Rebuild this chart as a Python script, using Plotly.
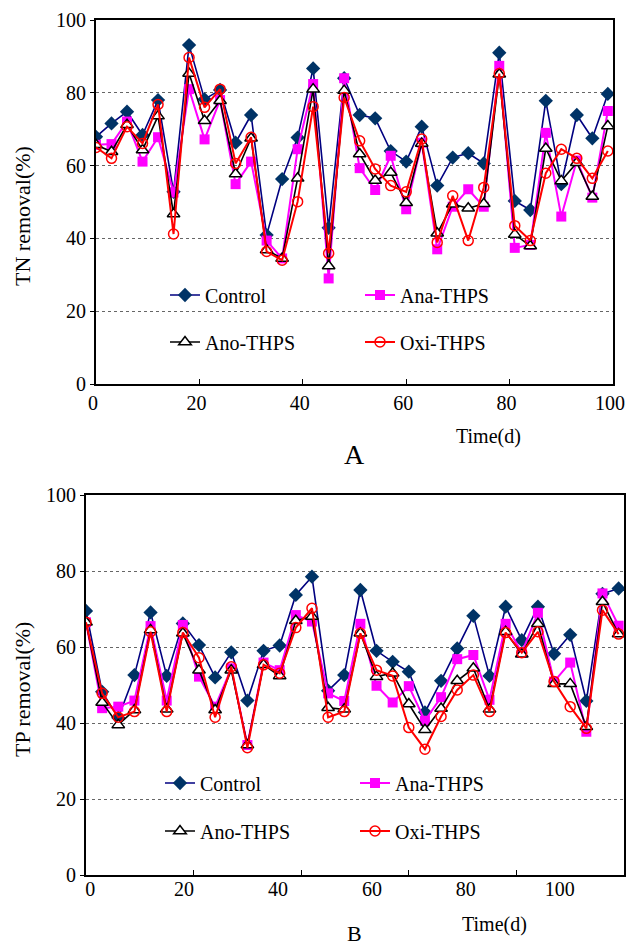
import plotly.graph_objects as go

# ---------------- data ----------------
days = [0, 3, 6, 9, 12, 15, 18, 21, 24, 27, 30, 33, 36, 39, 42, 45, 48, 51,
        54, 57, 60, 63, 66, 69, 72, 75, 78, 81, 84, 87, 90, 93, 96, 99]

series_names = ["Control", "Ana-THPS", "Ano-THPS", "Oxi-THPS"]

tn_control = [67.9, 71.6, 74.8, 68.4, 78.0, 52.8, 93.1, 78.2, 80.8, 66.3, 73.9, 40.9,
              56.3, 67.7, 86.7, 42.9, 84.0, 73.9, 73.0, 64.0, 61.1, 70.7, 54.5,
              62.2, 63.4, 60.6, 91.0, 50.3, 47.8, 77.8, 54.9, 73.9, 67.5, 79.7]
tn_ana = [65.7, 65.9, 72.1, 61.1, 67.8, 52.6, 81.0, 67.2, 78.0, 54.9, 61.1, 39.4,
          34.5, 64.5, 82.4, 29.0, 84.0, 59.3, 53.3, 62.7, 48.0, 66.3, 37.0,
          48.7, 53.5, 48.7, 87.4, 37.4, 38.2, 69.0, 46.0, 61.4, 51.2, 75.0]
tn_ano = [65.7, 63.8, 71.2, 64.3, 73.6, 46.7, 85.3, 72.3, 77.8, 57.7, 67.5, 36.8,
          34.5, 56.5, 81.0, 32.4, 80.6, 63.2, 55.9, 58.1, 49.8, 66.1, 41.4,
          49.4, 48.3, 49.5, 85.1, 41.1, 37.9, 64.7, 55.8, 60.8, 51.5, 70.9]
tn_oxi = [65.0, 62.0, 70.7, 66.1, 76.8, 41.2, 89.7, 76.0, 81.0, 60.6, 67.8, 36.4,
          34.0, 50.1, 76.2, 35.9, 78.7, 66.8, 59.1, 54.5, 52.8, 67.3, 38.9,
          51.7, 39.4, 54.0, 85.3, 43.5, 39.4, 57.9, 64.5, 62.0, 56.5, 64.0]

tp_control = [69.5, 48.2, 41.4, 52.6, 69.1, 52.4, 66.2, 60.5, 52.0, 58.6, 45.9, 59.0,
              60.4, 73.7, 78.5, 48.5, 52.6, 75.0, 59.0, 56.1, 53.5, 42.8, 51.1,
              59.6, 68.2, 52.4, 70.6, 61.8, 70.6, 58.2, 63.2, 45.8, 74.0, 75.4]
tp_ana = [66.5, 43.9, 44.3, 45.9, 65.5, 45.9, 65.8, 52.2, 44.3, 54.4, 34.2, 55.9,
          53.9, 68.4, 66.7, 47.8, 45.8, 66.1, 49.8, 45.4, 49.7, 40.6, 46.8,
          56.8, 57.9, 46.1, 66.1, 58.5, 69.0, 50.9, 55.9, 37.7, 74.1, 65.6]
tp_ano = [66.5, 45.4, 39.5, 43.4, 64.5, 43.6, 63.6, 53.9, 43.4, 53.9, 34.2, 55.3,
          52.4, 66.9, 68.0, 44.0, 43.6, 63.6, 52.2, 53.1, 45.0, 38.2, 43.8,
          51.1, 54.4, 43.6, 64.0, 58.1, 66.1, 50.3, 50.3, 39.0, 71.9, 63.4]
tp_oxi = [66.5, 47.8, 41.5, 43.0, 64.0, 43.0, 63.8, 57.2, 41.5, 54.8, 33.5, 55.3,
          53.1, 65.1, 70.2, 41.5, 43.0, 63.6, 53.9, 52.4, 38.8, 33.1, 41.7,
          48.7, 52.6, 43.0, 63.8, 58.5, 64.0, 50.9, 44.3, 38.6, 69.7, 63.4]

x_ticks = [0, 20, 40, 60, 80, 100]
x_ticktext = ["0", "20", "40", "60", "80", "100"]
y_ticks = [0, 20, 40, 60, 80, 100]

# ---------------- styles ----------------
FONT = "Liberation Serif"
styles = [
    dict(line=dict(color="#000080", width=1.6),
         marker=dict(symbol="diamond", size=11, color="#003366",
                     line=dict(color="#003366", width=0))),
    dict(line=dict(color="#FF00FF", width=2),
         marker=dict(symbol="square", size=10, color="#FF00FF",
                     line=dict(color="#FF00FF", width=0))),
    dict(line=dict(color="#000000", width=1.6),
         marker=dict(symbol="triangle-up", size=11, color="white",
                     line=dict(color="#000000", width=1.5))),
    dict(line=dict(color="#FF0000", width=2),
         marker=dict(symbol="circle", size=10, color="rgba(255,255,255,0)",
                     line=dict(color="#FF0000", width=1.5))),
]

fig = go.Figure()

tn_sets = [tn_control, tn_ana, tn_ano, tn_oxi]
tp_sets = [tp_control, tp_ana, tp_ano, tp_oxi]
legA = ["legend", "legend", "legend2", "legend2"]
legB = ["legend3", "legend3", "legend4", "legend4"]

for name, vals, st, lg in zip(series_names, tn_sets, styles, legA):
    fig.add_trace(go.Scatter(x=days, y=vals, name=name, mode="lines+markers",
                             line=st["line"], marker=st["marker"],
                             xaxis="x", yaxis="y", legend=lg))
for name, vals, st, lg in zip(series_names, tp_sets, styles, legB):
    fig.add_trace(go.Scatter(x=days, y=vals, name=name, mode="lines+markers",
                             line=st["line"], marker=st["marker"],
                             xaxis="x2", yaxis="y2", legend=lg))
# carrier for the label-only axis of panel B
fig.add_trace(go.Scatter(x=[], y=[], xaxis="x3", yaxis="y2", showlegend=False,
                         hoverinfo="skip"))

W, H = 626, 947


def px(x):
    return x / W


def py(y):
    return (H - y) / H


axis_common = dict(showline=True, linecolor="black", linewidth=2, mirror=True,
                   zeroline=False, ticklabeloverflow="allow", automargin=False,
                   tickfont=dict(family=FONT, size=20, color="black"))

fig.update_layout(
    width=W, height=H,
    margin=dict(l=0, r=0, t=0, b=0, pad=0),
    paper_bgcolor="white", plot_bgcolor="white",
    font=dict(family=FONT, size=20, color="black"),
    xaxis=dict(domain=[px(96), px(613)], range=[0, 100], tickvals=x_ticks,
               ticktext=x_ticktext, ticks="inside", ticklen=5, tickcolor="black",
               ticklabelshift=-3,
               showgrid=False, anchor="y", **axis_common),
    yaxis=dict(domain=[py(384), py(20)], range=[0, 100], tickvals=y_ticks,
               ticks="outside", ticklen=4, tickcolor="black",
               showgrid=True, gridcolor="#666666", griddash="dot", gridwidth=1,
               anchor="x", **axis_common),
    xaxis2=dict(domain=[px(86), px(624)], range=[0, 100], tickvals=x_ticks,
                ticks="inside", ticklen=5, tickcolor="black", showticklabels=False,
                showgrid=False, anchor="y2", **axis_common),
    xaxis3=dict(domain=[px(86), px(624)], range=[-0.9, 113.7], tickvals=x_ticks,
                ticktext=x_ticktext, ticks="", showline=False, showgrid=False,
                zeroline=False, overlaying="x2", anchor="y2", side="bottom",
                ticklabeloverflow="allow", automargin=False,
                tickfont=dict(family=FONT, size=20, color="black")),
    yaxis2=dict(domain=[py(875), py(495)], range=[0, 100], tickvals=y_ticks,
                ticks="outside", ticklen=4, tickcolor="black",
                showgrid=True, gridcolor="#666666", griddash="dot", gridwidth=1,
                anchor="x2", **axis_common),
    showlegend=True,
)

leg_common = dict(orientation="h", xanchor="left", yanchor="middle",
                  bgcolor="rgba(0,0,0,0)", entrywidth=150, entrywidthmode="pixels",
                  font=dict(family=FONT, size=20, color="black"),
                  itemclick=False, itemdoubleclick=False)
fig.update_layout(
    legend=dict(x=px(165), y=py(295), **leg_common),
    legend2=dict(x=px(165), y=py(342), **leg_common),
    legend3=dict(x=px(160), y=py(783), **leg_common),
    legend4=dict(x=px(160), y=py(831), **leg_common),
)

annotations = [
    dict(text="TN removal(%)", x=px(22), y=py(216), textangle=-90,
         font=dict(family=FONT, size=22, color="black")),
    dict(text="TP removal(%)", x=px(22), y=py(690), textangle=-90,
         font=dict(family=FONT, size=22, color="black")),
    dict(text="Time(d)", x=px(488), y=py(437)),
    dict(text="Time(d)", x=px(494), y=py(924)),
    dict(text="A", x=px(354), y=py(454), font=dict(family=FONT, size=28, color="black")),
    dict(text="B", x=px(354), y=py(933), font=dict(family=FONT, size=22, color="black")),
]
for a in annotations:
    a.setdefault("font", dict(family=FONT, size=20, color="black"))
    fig.add_annotation(xref="paper", yref="paper", showarrow=False,
                       xanchor="center", yanchor="middle", **a)

fig.write_html(
    "out.html",
    config={"displayModeBar": False},
    post_script="document.body.style.margin='0';"
                "document.documentElement.style.overflow='hidden';",
)
